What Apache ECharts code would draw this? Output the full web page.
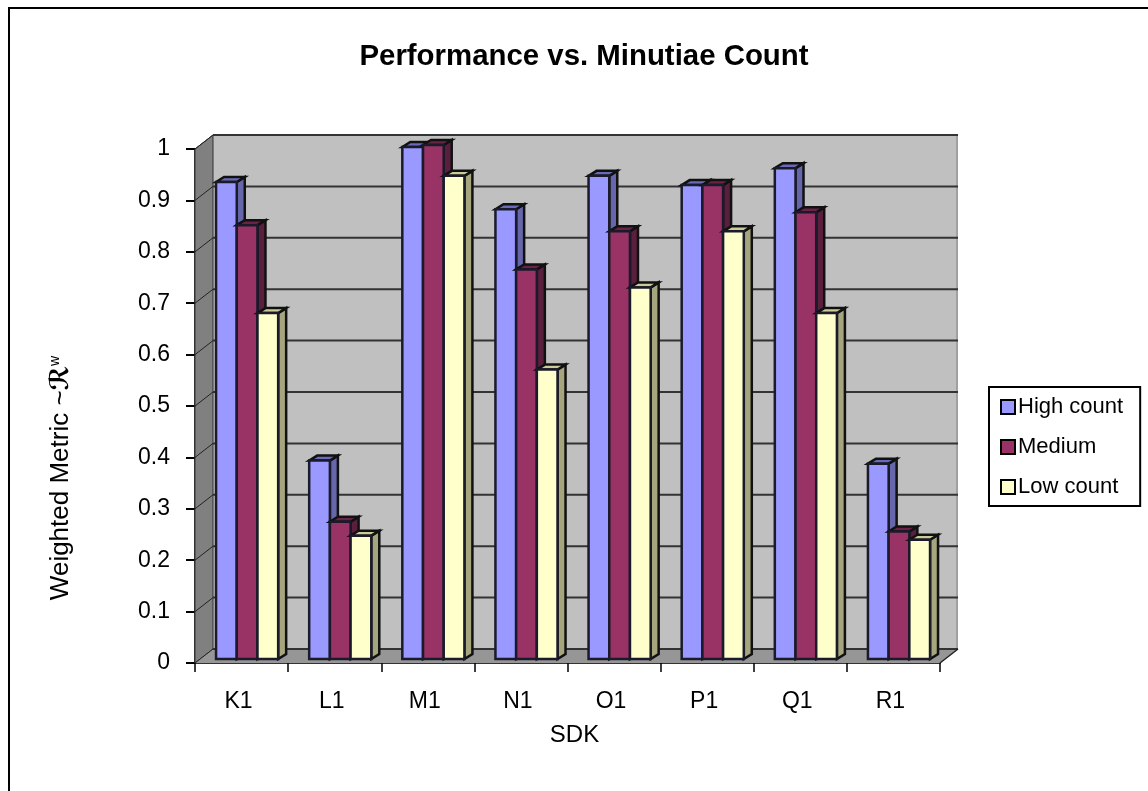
<!DOCTYPE html>
<html>
<head>
<meta charset="utf-8">
<style>
  html, body { margin: 0; padding: 0; background: #fff; }
  #chart { width: 1148px; height: 791px; }
</style>
<script src="https://cdn.jsdelivr.net/npm/echarts@6/dist/echarts.min.js"></script>
</head>
<body>
<div id="chart"></div>
<script>
const categories = ['K1', 'L1', 'M1', 'N1', 'O1', 'P1', 'Q1', 'R1']
const highCount = [0.928, 0.386, 0.996, 0.875, 0.94, 0.922, 0.955, 0.38]
const medium = [0.844, 0.267, 1.0, 0.758, 0.832, 0.922, 0.869, 0.248]
const lowCount = [0.673, 0.24, 0.94, 0.563, 0.723, 0.832, 0.673, 0.232]
const gridTicks = [0, 0.1, 0.2, 0.3, 0.4, 0.5, 0.6, 0.7, 0.8, 0.9, 1]

const FONT = '"Liberation Sans", Arial, sans-serif'
// 3d look: how far the back wall sits from the front axis plane
const WALL_DX = 18
const WALL_DY = 14
const BAR_DX = 8
const BAR_DY = 5
const BAR_W = 20.7

const chart = echarts.init(document.getElementById('chart'))

function poly(points, fill, stroke, width) {
  return {
    type: 'polygon',
    shape: {points: points},
    style: {fill: fill, stroke: stroke || null, lineWidth: width || 0}
  }
}

function line(x1, y1, x2, y2, stroke, width) {
  return {
    type: 'line',
    shape: {x1: x1, y1: y1, x2: x2, y2: y2},
    style: {stroke: stroke, lineWidth: width}
  }
}

function renderWall(params, api) {
  const cs = params.coordSys
  const left = cs.x
  const right = cs.x + cs.width
  const top = cs.y
  const bottom = cs.y + cs.height
  const y = api.coord([0, api.value(0)])[1]
  const children = []

  if (params.dataIndex === 0) {
    children.push(poly([[left + WALL_DX, top - WALL_DY], [right + WALL_DX, top - WALL_DY],
      [right + WALL_DX, bottom - WALL_DY], [left + WALL_DX, bottom - WALL_DY]], '#C0C0C0'))
    children.push(poly([[left, top], [left + WALL_DX, top - WALL_DY],
      [left + WALL_DX, bottom - WALL_DY], [left, bottom]], '#808080', '#333', 1))
    children.push(poly([[left, bottom], [left + WALL_DX, bottom - WALL_DY],
      [right + WALL_DX, bottom - WALL_DY], [right, bottom]], '#969696'))
    children.push(line(right + WALL_DX - 1, top - WALL_DY, right + WALL_DX - 1, bottom - WALL_DY, '#A0A0A0', 2))
  }
  // back wall rule plus the short slanted bit on the left wall
  children.push(line(left + WALL_DX, y - WALL_DY, right + WALL_DX, y - WALL_DY, '#333', 2))
  children.push(line(left, y, left + WALL_DX, y - WALL_DY, '#222', 1))
  if (api.value(0) === 0) {
    children.push(line(right, y, right + WALL_DX, y - WALL_DY, '#222', 1.5))
  }
  return {type: 'group', children: children}
}

function makeBar(seriesIndex, front, top, side) {
  return function (params, api) {
    const center = api.coord([api.value(0), 0])[0]
    const x = center - 25.5 + seriesIndex * BAR_W
    const base = api.coord([api.value(0), 0])[1] - 4
    const y = api.coord([api.value(0), api.value(1)])[1] - 4
    return {
      type: 'group',
      children: [
        poly([[x + BAR_W, y], [x + BAR_W + BAR_DX, y - BAR_DY],
          [x + BAR_W + BAR_DX, base - BAR_DY], [x + BAR_W, base]], side, '#111', 2.5),
        poly([[x, y], [x + BAR_DX, y - BAR_DY], [x + BAR_W + BAR_DX, y - BAR_DY], [x + BAR_W, y]], top, '#111', 2.5),
        poly([[x, y], [x + BAR_W, y], [x + BAR_W, base], [x, base]], front, '#1a1a2a', 2.5)
      ]
    }
  }
}

function barSeries(name, values, seriesIndex, front, top, side) {
  return {
    name: name,
    type: 'custom',
    renderItem: makeBar(seriesIndex, front, top, side),
    itemStyle: {color: front},
    encode: {x: 0, y: 1},
    z: 3 + seriesIndex,
    data: values.map((v, i) => [i, v])
  }
}

chart.setOption({
  animation: false,
  backgroundColor: '#fff',
  textStyle: {fontFamily: FONT, color: '#000'},
  title: {
    text: 'Performance vs. Minutiae Count',
    left: 579,
    top: 37,
    textAlign: 'center',
    textStyle: {fontFamily: FONT, fontSize: 29.4, fontWeight: 'bold', color: '#000'}
  },
  graphic: [{
    type: 'polyline',
    shape: {points: [[9, 791], [9, 8], [1148, 8]]},
    style: {stroke: '#000', lineWidth: 2, fill: null}
  }],
  legend: {
    orient: 'vertical',
    left: 989,
    top: 387,
    padding: [7, 17, 6, 11],
    itemGap: 14,
    itemWidth: 14,
    itemHeight: 14,
    backgroundColor: '#fff',
    borderColor: '#000',
    borderWidth: 2,
    textStyle: {fontFamily: FONT, fontSize: 22, color: '#000', padding: [0, 0, 0, -2], lineHeight: 26},
    data: [
      {name: 'High count', icon: 'rect', itemStyle: {color: '#9999FF', borderColor: '#000', borderWidth: 2}},
      {name: 'Medium', icon: 'rect', itemStyle: {color: '#993366', borderColor: '#000', borderWidth: 2}},
      {name: 'Low count', icon: 'rect', itemStyle: {color: '#FFFFCC', borderColor: '#000', borderWidth: 2}}
    ]
  },
  grid: {left: 195, right: 208, top: 149, bottom: 128},
  xAxis: {
    type: 'category',
    data: categories,
    name: 'SDK',
    nameLocation: 'middle',
    nameGap: 60,
    nameTextStyle: {fontFamily: FONT, fontSize: 24, color: '#000', padding: [0, 0, 0, 14]},
    axisLine: {lineStyle: {color: '#333', width: 2}},
    axisTick: {show: true, length: 9, lineStyle: {color: '#000', width: 1.5}},
    axisLabel: {fontFamily: FONT, fontSize: 23, color: '#000', margin: 27, padding: [0, 6, 0, 0]}
  },
  yAxis: {
    type: 'value',
    min: 0,
    max: 1,
    interval: 0.1,
    name: 'Weighted Metric ~{m|ℛ}{s|w}',
    nameLocation: 'middle',
    nameGap: 121,
    nameTextStyle: {
      fontFamily: FONT,
      fontSize: 26,
      color: '#000',
      padding: [0, 144, 0, 0],
      rich: {
        m: {fontFamily: '"DejaVu Sans"', fontSize: 26, fontWeight: 'bold', color: '#000'},
        s: {fontFamily: FONT, fontSize: 14, color: '#000', verticalAlign: 'top'}
      }
    },
    splitLine: {show: false},
    axisLine: {show: true, lineStyle: {color: '#333', width: 2}},
    axisTick: {show: true, length: 9, lineStyle: {color: '#000', width: 2}},
    axisLabel: {fontFamily: FONT, fontSize: 23, color: '#000', margin: 25}
  },
  series: [
    {
      name: 'walls',
      type: 'custom',
      renderItem: renderWall,
      silent: true,
      z: 1,
      encode: {y: 0},
      data: gridTicks.map(t => [t])
    },
    barSeries('High count', highCount, 0, '#9999FF', '#6A6AB8', '#6666AA'),
    barSeries('Medium', medium, 1, '#993366', '#6B2247', '#5B1F3E'),
    barSeries('Low count', lowCount, 2, '#FFFFCC', '#CCCC99', '#A5A57E')
  ]
})
</script>
</body>
</html>
